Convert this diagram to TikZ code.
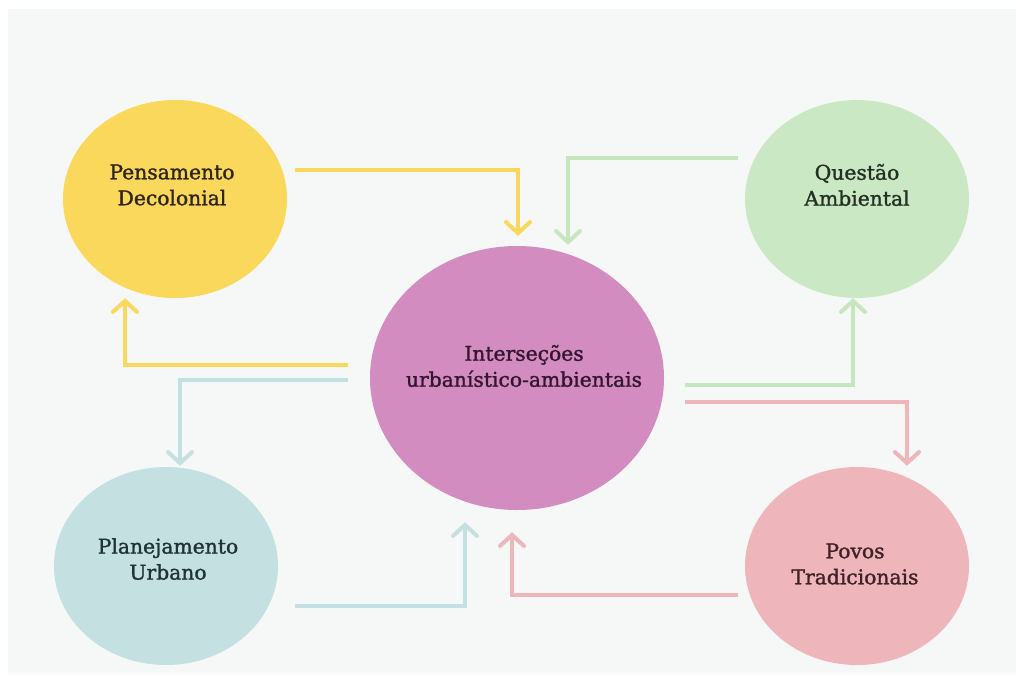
\documentclass[tikz,border=0pt]{standalone}
\usepackage{fontspec}
\setmainfont{DejaVu Serif}
\newfontfamily\lblfont[FakeBold=1.4]{DejaVu Serif}
\usetikzlibrary{shapes.geometric,arrows.meta}
\definecolor{bgcolor}{HTML}{F6F7F7}
\definecolor{yelcolor}{HTML}{F9D85B}
\definecolor{grncolor}{HTML}{CBE8C4}
\definecolor{grnline}{HTML}{C6E7BE}
\definecolor{purcolor}{HTML}{D38CC0}
\definecolor{blucolor}{HTML}{C4E0E1}
\definecolor{pnkcolor}{HTML}{EEB5BA}
\definecolor{yeltext}{HTML}{30251A}
\definecolor{grntext}{HTML}{243024}
\definecolor{purtext}{HTML}{341632}
\definecolor{blutext}{HTML}{1F3235}
\definecolor{pnktext}{HTML}{3E2226}

\begin{document}
\begin{tikzpicture}[x=1pt,y=1pt,line join=miter,
  bubble/.style={ellipse,fill=#1,inner sep=0pt,minimum width=224pt,minimum height=198pt},
  lbl/.style={text=#1,align=center,font=\lblfont\fontsize{20.3}{26}\selectfont},
  flow/.style={draw=#1,line width=4pt,-{Straight Barb[length=11pt,width=24pt,line cap=round]}}]
  \fill[white] (0,0) rectangle (1016,-675);
  \fill[bgcolor] (8,-9) rectangle (1016,-675);
  \useasboundingbox (0,0) rectangle (1016,-675);

  % circles
  \node[bubble=purcolor,minimum width=294pt,minimum height=264pt] (hub) at (517,-378) {};
  \node[bubble=yelcolor] (dec) at (175,-199) {};
  \node[bubble=grncolor] (amb) at (857,-199) {};
  \node[bubble=blucolor] (urb) at (166,-566) {};
  \node[bubble=pnkcolor] (pov) at (857,-566) {};

  \node[lbl=purtext] (hubtxt) at ([xshift=7,yshift=12]hub.center) {Interseções\\urbanístico-ambientais};
  \node[lbl=yeltext] (dectxt) at ([xshift=-3,yshift=14]dec.center) {Pensamento\\Decolonial};
  \node[lbl=grntext] (ambtxt) at ([yshift=14]amb.center) {Questão\\Ambiental};
  \node[lbl=blutext] (urbtxt) at ([xshift=2,yshift=7]urb.center) {Planejamento\\Urbano};
  \node[lbl=pnktext] (povtxt) at ([xshift=-2,yshift=2]pov.center) {Povos\\Tradicionais};

  % arrows
  \draw[flow=yelcolor] ([xshift=8,yshift=29]dec.east) -| ([xshift=1,yshift=10]hub.north);
  \draw[flow=yelcolor] ([xshift=-22,yshift=13]hub.west) -| ([xshift=-50]dec.south);
  \draw[flow=grnline] ([xshift=-7,yshift=41]amb.west) -| ([xshift=51,yshift=1]hub.north);
  \draw[flow=grnline] ([xshift=21,yshift=-7]hub.east) -| ([xshift=-4]amb.south);
  \draw[flow=blucolor] ([xshift=-22,yshift=-2]hub.west) -| ([xshift=14,yshift=1]urb.north);
  \draw[flow=blucolor] ([xshift=17,yshift=-40]urb.east) -| ([xshift=-52,yshift=-12]hub.south);
  \draw[flow=pnkcolor] ([xshift=21,yshift=-24]hub.east) -| ([xshift=50,yshift=1]pov.north);
  \draw[flow=pnkcolor] ([xshift=-7,yshift=-29]pov.west) -| ([xshift=-5,yshift=-22]hub.south);
\end{tikzpicture}
\end{document}
